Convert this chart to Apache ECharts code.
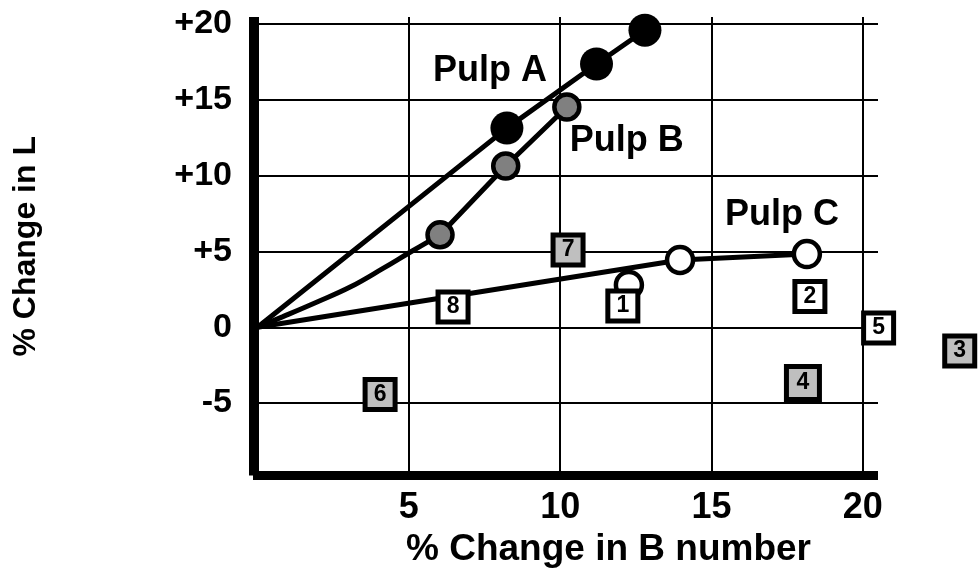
<!DOCTYPE html>
<html>
<head>
<meta charset="utf-8">
<title>% Change in L vs % Change in B number</title>
<script src="https://cdn.jsdelivr.net/npm/echarts@6/dist/echarts.min.js"></script>
<style>
  html, body { margin: 0; padding: 0; background: #ffffff; }
  #mychart { width: 980px; height: 575px; }
</style>
</head>
<body>
<div id="mychart"></div>
<script>
// values
var pulpAX = [8.24, 11.2, 12.8];
var pulpAY = [13.14, 17.37, 19.6];
var pulpBX = [6.03, 8.2, 10.22];
var pulpBY = [6.1, 10.64, 14.53];
// curved start of the Pulp B line (origin up to first point)
var curveBX = [0, 0.84, 1.95, 3.06, 4.16, 5.04, 6.03];
var curveBY = [0, 0.7, 1.65, 2.65, 3.9, 4.95, 6.1];
var pulpCX = [13.96, 18.15];
var pulpCY = [4.44, 4.83];
var extraCX = [12.27];
var extraCY = [2.79];

var squareIds = ['1', '2', '3', '4', '5', '6', '7', '8'];
var squareX = [12.07, 18.25, 23.2, 18.02, 20.52, 4.05, 10.26, 6.46];
var squareY = [1.4, 2.03, -1.56, -3.67, -0.05, -4.43, 5.1, 1.34];
var graySquares = ['3', '4', '6', '7'];

var pulpNames = ['Pulp A', 'Pulp B', 'Pulp C'];
var nameX = [7.68, 12.2, 17.33];
var nameY = [16.9, 12.28, 7.41];

var xTicks = [5, 10, 15, 20];
var yTicks = [-5, 0, 5, 10, 15, 20];

function pairs(xs, ys) {
  var out = [];
  for (var i = 0; i < xs.length; i++) out.push([xs[i], ys[i]]);
  return out;
}

var FONT = 'Liberation Sans, Arial, sans-serif';

var chartDom = document.getElementById('mychart');
var myChart = echarts.init(chartDom, null, { renderer: 'canvas' });

var option = {
  animation: false,
  backgroundColor: '#ffffff',
  grid: { left: 253, top: 17, right: 102, bottom: 99.5 },
  xAxis: {
    type: 'value',
    min: -0.149,
    max: 20.5,
    minInterval: 5,
    maxInterval: 5,
    name: '% Change in B number',
    nameLocation: 'middle',
    nameGap: 56,
    nameTextStyle: { fontFamily: FONT, fontWeight: 'bold', fontSize: 37, color: '#000', padding: [0, 0, 0, 86] },
    axisLine: { show: true, onZero: false, lineStyle: { color: '#000', width: 9, cap: 'butt' } },
    axisTick: { show: false },
    axisLabel: {
      margin: 15,
      fontFamily: FONT, fontWeight: 'bold', fontSize: 36, color: '#000',
      formatter: function (v) { return xTicks.indexOf(Math.round(v * 1000) / 1000) >= 0 ? String(v) : ''; }
    },
    splitLine: { show: true, showMinLine: false, showMaxLine: false, lineStyle: { color: '#000', width: 2 } }
  },
  yAxis: {
    type: 'value',
    min: -9.78,
    max: 20.47,
    minInterval: 5,
    maxInterval: 5,
    name: '% Change in L',
    nameLocation: 'middle',
    nameRotate: 90,
    nameGap: 211,
    nameTextStyle: { fontFamily: FONT, fontWeight: 'bold', fontSize: 32, color: '#000' },
    axisLine: { show: true, onZero: false, lineStyle: { color: '#000', width: 9, cap: 'butt' } },
    axisTick: { show: false },
    axisLabel: {
      margin: 21,
      fontFamily: FONT, fontWeight: 'bold', fontSize: 34, color: '#000',
      formatter: function (v) {
        var r = Math.round(v * 1000) / 1000;
        if (yTicks.indexOf(r) < 0) return '';
        return r > 0 ? '+' + r : String(r);
      }
    },
    splitLine: { show: true, showMinLine: false, showMaxLine: false, lineStyle: { color: '#000', width: 2 } }
  },
  series: [
    {
      name: 'Pulp A line', type: 'line', z: 2, symbol: 'none',
      lineStyle: { color: '#000', width: 5 },
      data: [[0, 0]].concat(pairs(pulpAX, pulpAY))
    },
    {
      name: 'Pulp B curve', type: 'line', z: 2, symbol: 'none', smooth: 0.4,
      lineStyle: { color: '#000', width: 5 },
      data: pairs(curveBX, curveBY)
    },
    {
      name: 'Pulp B line', type: 'line', z: 2, symbol: 'none',
      lineStyle: { color: '#000', width: 5 },
      data: pairs(pulpBX, pulpBY)
    },
    {
      name: 'Pulp C line', type: 'line', z: 2, symbol: 'none',
      lineStyle: { color: '#000', width: 5 },
      data: [[0, 0]].concat(pairs(pulpCX, pulpCY))
    },
    {
      name: 'Pulp A', type: 'scatter', z: 3, symbol: 'circle', symbolSize: 33,
      itemStyle: { color: '#000', opacity: 1 },
      data: pairs(pulpAX, pulpAY)
    },
    {
      name: 'Pulp B', type: 'scatter', z: 3, symbol: 'circle', symbolSize: 25,
      itemStyle: { color: '#808080', borderColor: '#000', borderWidth: 4.5, opacity: 1 },
      data: pairs(pulpBX, pulpBY)
    },
    {
      name: 'Pulp C', type: 'scatter', z: 3, symbol: 'circle', symbolSize: 26,
      itemStyle: { color: '#fff', borderColor: '#000', borderWidth: 4.5, opacity: 1 },
      data: pairs(pulpCX, pulpCY).concat(pairs(extraCX, extraCY))
    },
    {
      name: 'Samples', type: 'scatter', z: 4, symbol: 'rect', clip: false,
      symbolSize: function (val, params) { return squareIds[params.dataIndex] === '4' ? 33 : 30; },
      itemStyle: {
        opacity: 1,
        borderColor: '#000',
        borderWidth: 5,
        color: function (params) {
          return graySquares.indexOf(squareIds[params.dataIndex]) >= 0 ? '#bfbfbf' : '#ffffff';
        }
      },
      label: {
        show: true, position: 'inside',
        fontFamily: FONT, fontWeight: 'bold', fontSize: 23, color: '#000',
        formatter: function (params) { return squareIds[params.dataIndex]; }
      },
      data: pairs(squareX, squareY)
    },
    {
      name: 'Names', type: 'scatter', z: 5, symbol: 'circle', symbolSize: 1,
      itemStyle: { color: 'rgba(0,0,0,0)', opacity: 1 },
      label: {
        show: true, position: 'inside',
        fontFamily: FONT, fontWeight: 'bold', fontSize: 36, color: '#000',
        formatter: function (params) { return pulpNames[params.dataIndex]; }
      },
      data: pairs(nameX, nameY)
    }
  ]
};

myChart.setOption(option);
</script>
</body>
</html>
